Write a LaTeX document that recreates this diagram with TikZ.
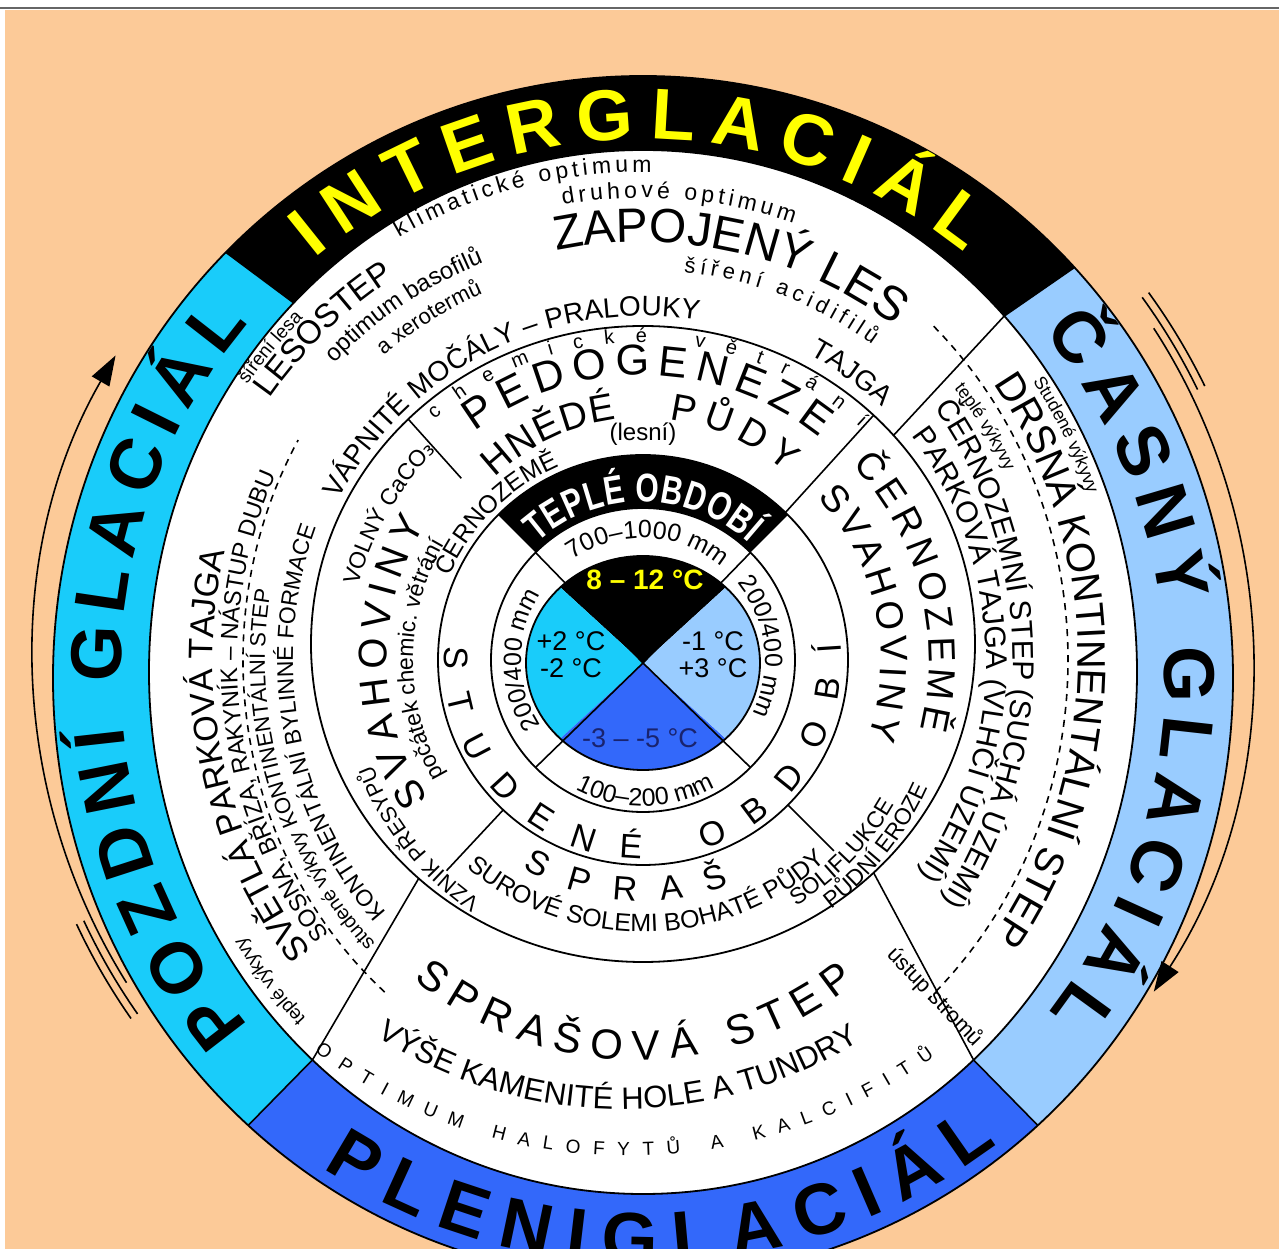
\documentclass[tikz,border=0pt]{standalone}
\usepackage{fontspec}
\setmainfont{Liberation Sans}
\newfontfamily\narrowsans[FakeStretch=0.75]{Liberation Sans}
\newfontfamily\dejavu{DejaVu Sans}
\usetikzlibrary{decorations.text, arrows.meta}

\definecolor{peach}{RGB}{252,202,152}
\definecolor{glcyan}{RGB}{25,204,250}
\definecolor{gllight}{RGB}{153,204,255}
\definecolor{glblue}{RGB}{51,104,250}
\definecolor{glyellow}{RGB}{255,255,0}
\definecolor{coldnavy}{RGB}{25,35,110}

\newcommand\fsz[1]{\fontsize{#1}{#1}\selectfont}
% text along an elliptic arc: [decoration extras]{centre}{rx}{ry}{from}{to}{text}
\newcommand\arctext[7][]{%
  \path[decorate, decoration={text along path, text align=center, #1, text={#7}}]
    ([shift={(#2)}]#5:#3 and #4) arc[start angle=#5, end angle=#6, x radius=#3, y radius=#4];}
% coloured piece of the outer band
\newcommand\bandpiece[3]{%
  \fill[#1] ([shift={(0,-18)}]#2:590 and 602) arc[start angle=#2, end angle=#3, x radius=590, y radius=602]
    -- ([shift={(0,-12)}]#3:494 and 522) arc[start angle=#3, end angle=#2, x radius=494, y radius=522] -- cycle;}

\tikzset{
    ring/.style={draw=black, line width=1.8pt},
    sepline/.style={black, line width=1.6pt},
    dashline/.style={black, line width=1.6pt, dash pattern=on 7pt off 6pt},
    cyclearrow/.style={line width=1.6pt, -{Triangle[length=30pt, width=20pt]}},
    temp/.style={font=\fsz{27}, align=center, inner sep=0pt}
}

\begin{document}
\begin{tikzpicture}[x=1pt, y=1pt]
\useasboundingbox (-643,-589) rectangle (636,660);
\clip (-643,-589) rectangle (636,660);
\fill[white] (-643,-589) rectangle (636,660);
\fill[peach] (-638,-589) rectangle (636,650);
\draw[black!60, line width=1.5pt] (-643,652) -- (636,652);

% outer band
\bandpiece{black}{43}{135}
\bandpiece{glcyan}{135}{228}
\bandpiece{glblue}{228}{312}
\bandpiece{gllight}{-48}{43}
\fill[white] (0,-12) ellipse[x radius=494, y radius=522];
\draw[ring] (0,-18) ellipse[x radius=590, y radius=602];
\draw[ring] (0,-12) ellipse[x radius=494, y radius=522];
\foreach \a in {43,135,228,312}
  \draw[sepline] ([shift={(0,-12)}]\a:494 and 522) -- ([shift={(0,-18)}]\a:590 and 602);

% cycle arrows
\draw[cyclearrow] (212:609) arc[start angle=212, end angle=150, radius=609];
\draw[cyclearrow] (33:609) arc[start angle=33, end angle=-33, radius=609];
\foreach \r in {617,625} {
  \draw[line width=1.6pt] (205:\r) arc[start angle=205, end angle=215, radius=\r];
  \draw[line width=1.6pt] (26:\r) arc[start angle=26, end angle=36, radius=\r];
}

% inner disk and rings
\fill[black] (0,-3) -- ([shift={(0,-3)}]45:117 and 107) arc[start angle=45, end angle=135, x radius=117, y radius=107] -- cycle;
\fill[glcyan] (0,-3) -- ([shift={(0,-3)}]135:117 and 107) arc[start angle=135, end angle=225, x radius=117, y radius=107] -- cycle;
\fill[glblue] (0,-3) -- ([shift={(0,-3)}]225:117 and 107) arc[start angle=225, end angle=315, x radius=117, y radius=107] -- cycle;
\fill[gllight] (0,-3) -- ([shift={(0,-3)}]315:117 and 107) arc[start angle=315, end angle=405, x radius=117, y radius=107] -- cycle;
\fill[black] (45:152) arc[start angle=45, end angle=135, radius=152]
  -- (135:205) arc[start angle=135, end angle=45, radius=205] -- cycle;
\foreach \a in {45,135,225,315}
  \draw[sepline] (0,-3) -- (\a:152);
\draw[ring] (0,-3) ellipse[x radius=117, y radius=107];
\draw[ring] (0,0) circle[radius=152];
\draw[ring] (0,0) circle[radius=205];
\draw[ring] (0,16) ellipse[x radius=332, y radius=318];

% sector lines
\draw[sepline] (46:205) -- ([shift={(0,16)}]46:332 and 318);
\draw[sepline] (135:257) -- ([shift={(0,16)}]135:332 and 318);
\draw[sepline] (227:205) -- (227:288);
\draw[sepline] (-45:205) -- (-45:270);
\draw[sepline] ([shift={(0,16)}]41:332 and 318) -- ([shift={(0,-12)}]43:494 and 522);
\draw[sepline] ([shift={(0,16)}]-46:332 and 318) -- ([shift={(0,-12)}]-48:494 and 522);
\draw[sepline] ([shift={(0,16)}]227.5:332 and 318) -- ([shift={(0,-12)}]228:494 and 522);
\draw[dashline] ([shift={(12,0)}]229:412 and 440) arc[start angle=229, end angle=150, x radius=412, y radius=440];
\draw[dashline] ([shift={(-15,0)}]46:440 and 464) arc[start angle=46, end angle=-47, x radius=440, y radius=464];

% band names
\arctext[text align=fit to path, text color=glyellow]{0,-15}{522}{536}{129}{52}{|\fsz{72}\bfseries|INTERGLACIÁL}
\arctext[text align=fit to path]{0,-15}{522}{536}{40}{-39}{|\fsz{72}\bfseries|ČASNÝ GLACIÁL}
\arctext[text align=fit to path]{0,-15}{522}{536}{221}{139}{|\fsz{72}\bfseries|POZDNÍ GLACIÁL}
\arctext[text align=fit to path]{0,-15}{588}{588}{237}{307}{|\fsz{72}\bfseries|PLENIGLACIÁL}

% interglacial
\arctext[text align=fit to path]{0,0}{488}{488}{120}{89}{|\fsz{23}|klimatické optimum}
\arctext[text align=fit to path]{0,0}{462}{462}{100}{71}{|\fsz{23}|druhové optimum}
\arctext{0,0}{418}{418}{112}{43}{|\fsz{48}|ZAPOJENÝ LES}
\arctext[text align=fit to path]{0,0}{390}{390}{84}{54}{|\fsz{22}|šíření acidifilů}
\arctext{0,0}{348}{348}{66}{42}{|\fsz{28}|TAJGA}
\arctext{0,0}{344}{344}{158}{75}{|\fsz{28}|VÁPNITÉ MOČÁLY – PRALOUKY}
\arctext{0,0}{456}{456}{148}{120}{|\fsz{33}|LESOSTEP}
\arctext{0,0}{482}{482}{150}{130}{|\fsz{19}|šíření lesa}
\arctext{0,0}{428}{428}{142}{106}{|\fsz{24}|optimum basofilů}
\arctext{0,0}{400}{400}{133}{111}{|\fsz{22}|a xerotermů}

% soils, warm part
\arctext[text align=fit to path]{0,0}{318}{318}{131}{47}{|\fsz{20}|chemické větrání}
\arctext[text align=fit to path]{0,5}{280}{280}{127}{51}{|\fsz{43}|PEDOGENEZE}
\arctext[text align=fit to path]{0,28}{214}{214}{134}{97}{|\fsz{38}|HNĚDÉ}
\arctext[text align=fit to path]{0,28}{214}{214}{83}{48}{|\fsz{38}|PŮDY}
\node[font=\fsz{24}] (lesni) at (0,226) {(lesní)};
\arctext{0,0}{211}{211}{163}{107}{|\fsz{25}|ČERNOZEMĚ}

% soils, left
\arctext{0,0}{230}{230}{216}{144}{|\fsz{23}|počátek chemic. větrání}
\arctext[text align=fit to path]{0,0}{256}{256}{213}{148}{|\fsz{40}|SVAHOVINY}
\arctext{0,0}{294}{294}{168}{132}{|\fsz{23}|VOLNÝ CaCO|\dejavu\fsz{24}|₃}
\arctext{0,0}{290}{290}{240}{197}{|\fsz{22}|VZNIK PŘESYPŮ}

% soils, right
\arctext[text align=fit to path]{0,0}{286}{286}{43}{-14}{|\fsz{38}|ČERNOZEMĚ}
\arctext[text align=fit to path]{0,0}{238}{238}{43}{-19}{|\fsz{38}|SVAHOVINY}
\arctext{0,0}{312}{312}{-60}{-17}{|\fsz{23}|PŮDNÍ EROZE}
\arctext{0,0}{290}{290}{-64}{-24}{|\fsz{23}|SOLIFLUKCE}

% soils, bottom
\arctext[text align=fit to path]{0,0}{241}{241}{240}{291}{|\fsz{34}|SPRAŠ}
\arctext{0,0}{272}{272}{225}{317}{|\fsz{25}|SUROVÉ SOLEMI BOHATÉ PŮDY}

% seasons and precipitation
\arctext[text align=fit to path, text color=white]{0,0}{158}{158}{132}{48}{|\fsz{40}\narrowsans\bfseries|TEPLÉ OBDOBÍ}
\arctext[text align=fit to path]{0,0}{199}{199}{176}{365}{|\fsz{34}|STUDENÉ OBDOBÍ}
\arctext{0,0}{122}{122}{132}{43}{|\fsz{25}|700–1000 mm}
\arctext{0,0}{122}{122}{214}{146}{|\fsz{25}|200/400 mm}
\arctext{0,0}{122}{122}{40}{-27}{|\fsz{25}|200/400 mm}
\arctext{0,0}{146}{146}{232}{310}{|\fsz{25}|100–200 mm}

% temperatures
\node[font=\fsz{28}\bfseries, text=glyellow] (warmtemp) at (2,80) {8 – 12 °C};
\node[temp] (latetemp) at (-72,5) {+2 °C\\-2 °C};
\node[temp] (earlytemp) at (70,5) {-1 °C\\+3 °C};
\node[temp, text=coldnavy] (coldtemp) at (-3,-78) {-3 – -5 °C};

% early glacial
\arctext{0,0}{472}{494}{40}{14}{|\fsz{18}|Studené výkyvy}
\arctext{0,0}{435}{466}{50}{-50}{|\fsz{40}|DRSNÁ KONTINENTÁLNÍ STEP}
\arctext{0,0}{404}{426}{45}{21}{|\fsz{18}|teplé výkyvy}
\arctext{0,0}{370}{408}{50}{-48}{|\fsz{30}|ČERNOZEMNÍ STEP (SUCHÁ ÚZEMÍ)}
\arctext{0,0}{343}{360}{50}{-48}{|\fsz{30}|PARKOVÁ TAJGA (VLHČÍ ÚZEMÍ)}
\node[font=\fsz{22}, rotate=-46] (ustup) at (292,-337) {ústup stromů};

% late glacial
\arctext{0,0}{476}{508}{230}{208}{|\fsz{19}|teplé výkyvy}
\arctext{0,0}{430}{458}{227}{159}{|\fsz{34}|SVĚTLÁ PARKOVÁ TAJGA}
\arctext{0,0}{406}{432}{224}{150}{|\fsz{24}|SOSNA, BŘÍZA, RAKYNÍK – NÁSTUP DUBU}
\arctext{0,0}{378}{402}{228}{167}{|\fsz{20}|studené výkyvy |\fsz{22}|KONTINENTÁLNÍ STEP}
\arctext{0,0}{350}{370}{226}{156}{|\fsz{23}|KONTINENTÁLNÍ BYLINNÉ FORMACE}

% pleniglacial
\arctext[text align=fit to path]{-6,-53}{347}{347}{230}{309}{|\fsz{42}|SPRAŠOVÁ STEP}
\arctext{-21,3}{452}{452}{231}{308}{|\fsz{31}|VÝŠE KAMENITÉ HOLE A TUNDRY}
\arctext[text align=fit to path]{-15,25}{521}{521}{233}{306}{|\fsz{19}|OPTIMUM HALOFYTŮ A KALCIFITŮ}
\end{tikzpicture}
\end{document}
